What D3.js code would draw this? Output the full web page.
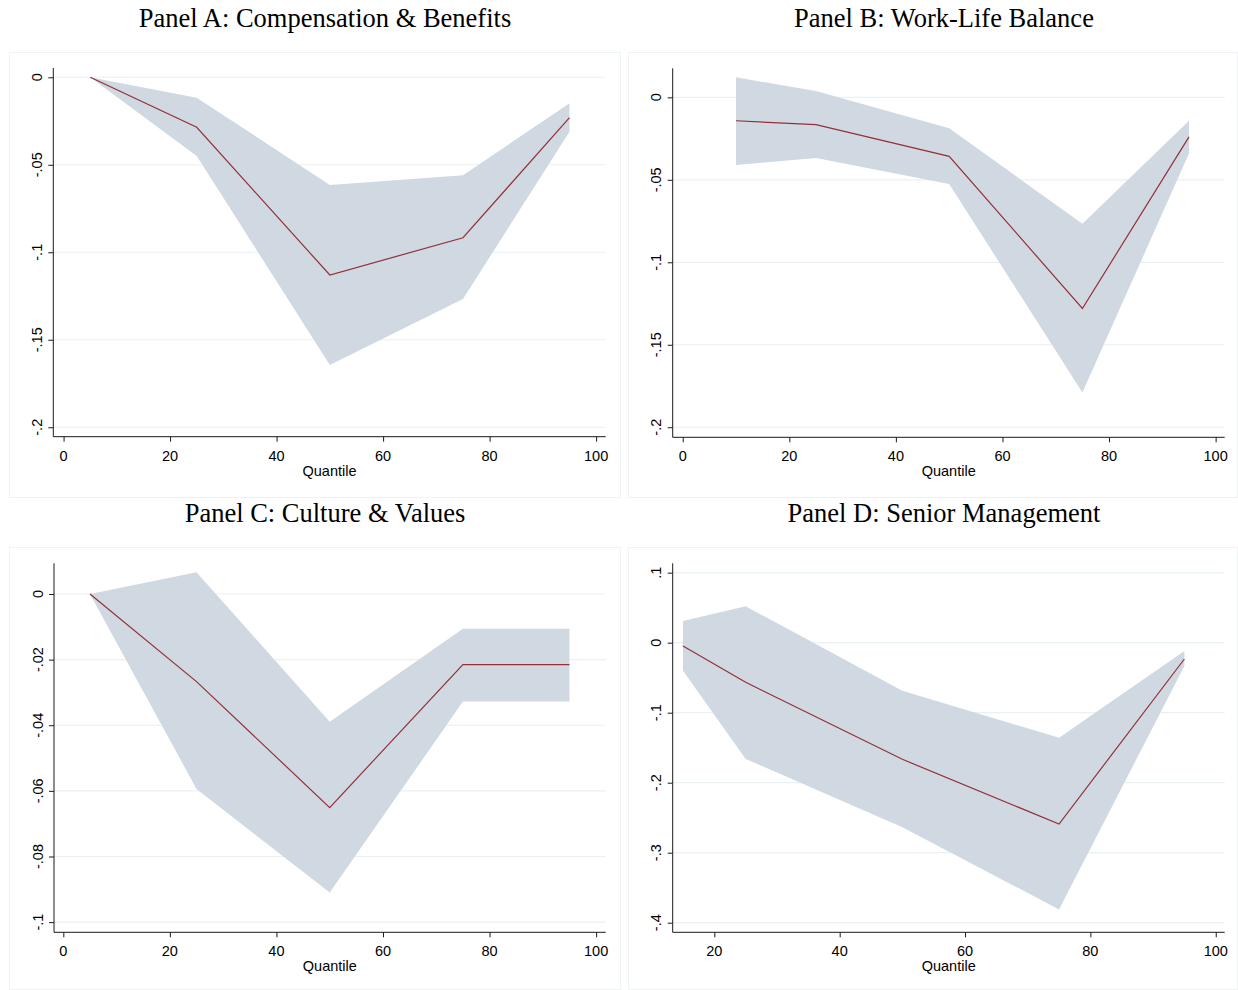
<!DOCTYPE html>
<html>
<head>
<meta charset="utf-8">
<script src="https://cdn.jsdelivr.net/npm/d3@7"></script>
<style>
  html, body { margin: 0; padding: 0; background: #fff; }
  svg { display: block; }
  .tick-label { font-family: "Liberation Sans", Arial, Helvetica, sans-serif; font-size: 14.5px; fill: #000; }
  .panel-title { font-family: "Liberation Serif", "Times New Roman", serif; font-size: 26.5px; fill: #000; }
</style>
</head>
<body>
<svg id="chart" width="1238" height="990"></svg>
<script>
// Quantile positions of each estimate
const quantA = [5, 25, 50, 75, 95];
const quantB = [10, 25, 50, 75, 95];
const quantC = [5, 25, 50, 75, 95];
const quantD = [15, 25, 50, 75, 95];

// Point estimates
const estA = [0, -0.0286, -0.1130, -0.0917, -0.0231];
const estB = [-0.0142, -0.0166, -0.0358, -0.1280, -0.0240];
const estC = [0, -0.0267, -0.0651, -0.0215, -0.0215];
const estD = [-0.0047, -0.0566, -0.1666, -0.2590, -0.0233];

// Upper confidence bounds
const upA = [0, -0.0117, -0.0615, -0.0560, -0.0149];
const upB = [0.0121, 0.0038, -0.0188, -0.0766, -0.0142];
const upC = [0, 0.0066, -0.0389, -0.0106, -0.0106];
const upD = [0.0310, 0.0520, -0.0686, -0.1357, -0.0119];

// Lower confidence bounds
const loA = [0, -0.0450, -0.1644, -0.1267, -0.0311];
const loB = [-0.0410, -0.0368, -0.0525, -0.1790, -0.0340];
const loC = [0, -0.0594, -0.0910, -0.0328, -0.0328];
const loD = [-0.0400, -0.1660, -0.2637, -0.3810, -0.0333];

// Axis ticks and their labels
const xTicksFull = [0, 20, 40, 60, 80, 100];
const xTicksD = [20, 40, 60, 80, 100];
const yTicksAB = [0, -0.05, -0.1, -0.15, -0.2];
const yLabelsAB = ["0", "-.05", "-.1", "-.15", "-.2"];
const yTicksC = [0, -0.02, -0.04, -0.06, -0.08, -0.1];
const yLabelsC = ["0", "-.02", "-.04", "-.06", "-.08", "-.1"];
const yTicksD = [0.1, 0, -0.1, -0.2, -0.3, -0.4];
const yLabelsD = [".1", "0", "-.1", "-.2", "-.3", "-.4"];

const titles = [
  "Panel A: Compensation & Benefits",
  "Panel B: Work-Life Balance",
  "Panel C: Culture & Values",
  "Panel D: Senior Management"
];

const FILL = "#d0d9e2";
const LINE = "#93303a";
const GRID = "#e9f1f3";
const FRAME = "#eef3f5";
const AXIS = "#1a1a1a";

const svg = d3.select("#chart");

// Layout of the four panels: outer frame and plotting region
const panels = [
  { title: titles[0], q: quantA, est: estA, up: upA, lo: loA,
    frame: [9.5, 52.5, 611, 445], titleX: 325, titleY: 27,
    plot: { l: 53.3, r: 605.7, t: 68, b: 436.7 },
    xd: [-1.93, 101.8], yd: [0.0053, -0.2054],
    xt: xTicksFull, yt: yTicksAB, yl: yLabelsAB },
  { title: titles[1], q: quantB, est: estB, up: upB, lo: loB,
    frame: [628.5, 52.5, 609, 445], titleX: 944, titleY: 27,
    plot: { l: 672.7, r: 1224.7, t: 68.3, b: 437.3 },
    xd: [-1.88, 101.7], yd: [0.0176, -0.2061],
    xt: xTicksFull, yt: yTicksAB, yl: yLabelsAB },
  { title: titles[2], q: quantC, est: estC, up: upC, lo: loC,
    frame: [9.5, 547.5, 611, 442], titleX: 325, titleY: 522,
    plot: { l: 54, r: 605.7, t: 563.3, b: 932.3 },
    xd: [-1.75, 101.8], yd: [0.00935, -0.1031],
    xt: xTicksFull, yt: yTicksC, yl: yLabelsC },
  { title: titles[3], q: quantD, est: estD, up: upD, lo: loD,
    frame: [628.5, 547.5, 609, 442], titleX: 944, titleY: 522,
    plot: { l: 672.7, r: 1224.7, t: 563.3, b: 932.3 },
    xd: [13.36, 101.43], yd: [0.1134, -0.4137],
    xt: xTicksD, yt: yTicksD, yl: yLabelsD }
];

panels.forEach(p => {
  const g = svg.append("g");

  // Outer frame of the graph region
  g.append("rect")
    .attr("x", p.frame[0]).attr("y", p.frame[1])
    .attr("width", p.frame[2]).attr("height", p.frame[3])
    .attr("fill", "#fff").attr("stroke", FRAME).attr("stroke-width", 1);

  g.append("text")
    .attr("class", "panel-title")
    .attr("x", p.titleX).attr("y", p.titleY)
    .attr("text-anchor", "middle")
    .text(p.title);

  const x = d3.scaleLinear().domain(p.xd).range([p.plot.l, p.plot.r]);
  const y = d3.scaleLinear().domain(p.yd).range([p.plot.t, p.plot.b]);

  // Horizontal grid lines
  g.append("g").selectAll("line").data(p.yt).join("line")
    .attr("x1", p.plot.l).attr("x2", p.plot.r)
    .attr("y1", d => y(d)).attr("y2", d => y(d))
    .attr("stroke", GRID).attr("stroke-width", 1.2);

  const rows = p.q.map((q, i) => ({ q, est: p.est[i], up: p.up[i], lo: p.lo[i] }));

  // Confidence band
  const area = d3.area()
    .x(d => x(d.q))
    .y0(d => y(d.lo))
    .y1(d => y(d.up));
  g.append("path").datum(rows)
    .attr("d", area)
    .attr("fill", FILL);

  // Point estimate line
  const line = d3.line().x(d => x(d.q)).y(d => y(d.est));
  g.append("path").datum(rows)
    .attr("d", line)
    .attr("fill", "none")
    .attr("stroke", LINE)
    .attr("stroke-width", 1.2);

  // Y axis
  const yAxis = d3.axisLeft(y).tickValues(p.yt).tickSize(5).tickFormat("");
  const ya = g.append("g").attr("transform", `translate(${p.plot.l},0)`).call(yAxis);
  ya.select(".domain").attr("d", `M0,${p.plot.t}V${p.plot.b}`).attr("stroke", AXIS);
  ya.selectAll(".tick line").attr("stroke", AXIS);
  g.append("g").selectAll("text").data(p.yt).join("text")
    .attr("class", "tick-label")
    .attr("text-anchor", "middle")
    .attr("transform", (d) => `translate(${p.plot.l - 11.5},${y(d)}) rotate(-90)`)
    .text((d, i) => p.yl[i]);

  // X axis
  const xAxis = d3.axisBottom(x).tickValues(p.xt).tickSize(5).tickFormat("");
  const xa = g.append("g").attr("transform", `translate(0,${p.plot.b})`).call(xAxis);
  xa.select(".domain").attr("d", `M${p.plot.l},0H${p.plot.r}`).attr("stroke", AXIS);
  xa.selectAll(".tick line").attr("stroke", AXIS);
  g.append("g").selectAll("text").data(p.xt).join("text")
    .attr("class", "tick-label")
    .attr("text-anchor", "middle")
    .attr("x", d => x(d))
    .attr("y", p.plot.b + 24)
    .text(d => d);

  g.append("text")
    .attr("class", "tick-label")
    .attr("text-anchor", "middle")
    .attr("x", (p.plot.l + p.plot.r) / 2)
    .attr("y", p.plot.b + 39)
    .text("Quantile");
});
</script>
</body>
</html>
